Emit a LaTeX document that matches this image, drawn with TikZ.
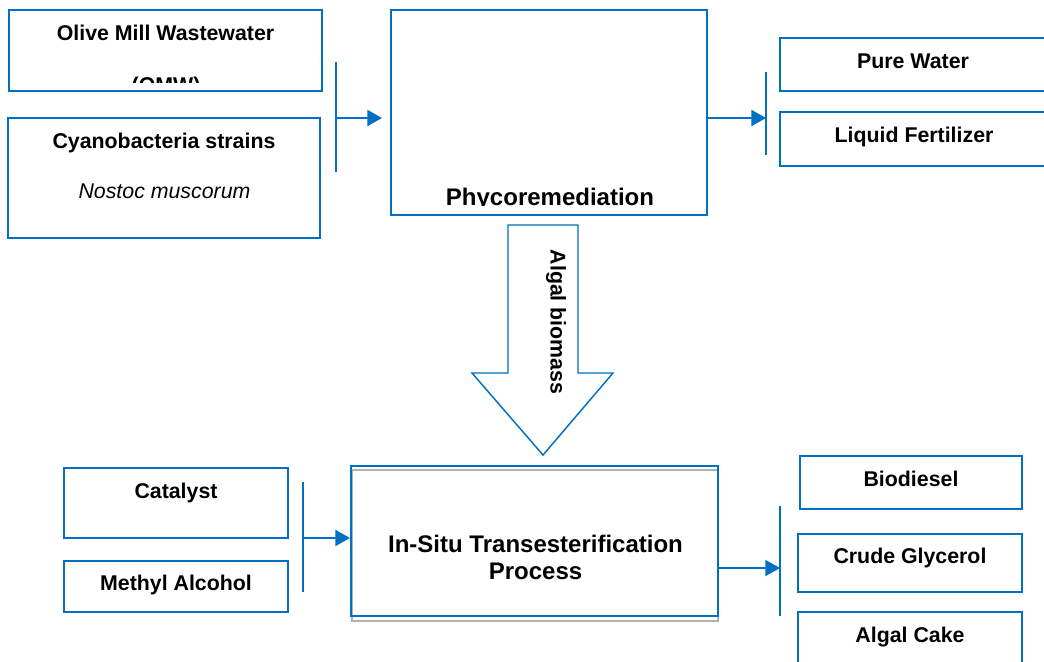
\documentclass[tikz,border=0pt]{standalone}
\usepackage{fontspec}
\setmainfont{Liberation Sans}
\usepackage{tikz}
\usetikzlibrary{positioning, arrows.meta}

\definecolor{boxblue}{RGB}{0,112,192}

\tikzset{
  box/.style={draw=boxblue, line width=1.5pt, inner sep=0pt, rectangle},
  lbl/.style={font=\bfseries\fontsize{16}{19}\selectfont, anchor=base, inner sep=0pt},
  biglbl/.style={font=\bfseries\fontsize{18}{20}\selectfont, anchor=base, inner sep=0pt},
  bar/.style={draw=boxblue, line width=1.5pt},
  flow/.style={draw=boxblue, line width=1.5pt, -{Triangle[length=11pt,width=12pt]}},
}

\begin{document}
\begin{tikzpicture}[x=0.75pt,y=0.75pt,yscale=-1,xscale=1]
    \useasboundingbox (0,0) rectangle (1044,661);

    %Shape: Rectangle [inputs]
    \node[box, minimum width=234.75pt, minimum height=60.75pt] (omw) at (165.5,50.5) {};
    \node[box, minimum width=234pt, minimum height=90pt] (cyano) at (164,178) {};
    %Shape: Rectangle [phycoremediation]
    \node[box, minimum width=237pt, minimum height=153.75pt] (phyco) at (549,112.5) {};
    %Shape: Rectangle [outputs]
    \node[box, minimum width=201pt, minimum height=39.75pt] (pure) at (914,64.5) {};
    \node[box, minimum width=201pt, minimum height=40.5pt] (liquid) at (914,139) {};

    %Straight Lines [bracket in]
    \coordinate (inT) at (336,62);
    \coordinate (inB) at (336,172);
    \coordinate (inM) at (336,118);
    \draw[bar] (inT) -- (inB);
    \draw[flow, shorten >=6pt] (inM) -- (inM -| phyco.west);
    %Straight Lines [bracket out]
    \coordinate (outT) at (766,72);
    \coordinate (outB) at (766,155);
    \coordinate (outM) at (766,118);
    \draw[bar] (outT) -- (outB);
    \draw[flow] (outM -| phyco.east) -- (outM);

    %Shape: Block Arrow
    \coordinate (arA) at (508,225);
    \coordinate (arB) at (578,225);
    \coordinate (arC) at (578,373);
    \coordinate (arD) at (613,373);
    \coordinate (arTip) at (543,455);
    \coordinate (arE) at (472,373);
    \coordinate (arF) at (508,373);
    \draw[boxblue, line width=1.1pt, fill=white] (arA) -- (arB) -- (arC) -- (arD) -- (arTip) -- (arE) -- (arF) -- cycle;

    %Shape: Rectangle [second stage]
    \node[box, minimum width=168pt, minimum height=52.5pt] (catalyst) at (176,503) {};
    \node[box, minimum width=168pt, minimum height=38.25pt] (methyl) at (176,586.5) {};
    \draw[gray!60, line width=1.5pt] (352,470) rectangle (718,621);
    \node[box, minimum width=275.25pt, minimum height=112.5pt] (trans) at (534.5,541) {};
    \node[box, minimum width=166.5pt, minimum height=39.75pt] (biodiesel) at (911,482.5) {};
    \node[box, minimum width=168pt, minimum height=43.5pt] (crude) at (910,563) {};
    \node[box, minimum width=168pt, minimum height=43.5pt] (cake) at (910,641) {};

    %Straight Lines [bracket in 2]
    \coordinate (in2T) at (303,482);
    \coordinate (in2B) at (303,592);
    \coordinate (in2M) at (303,538);
    \draw[bar] (in2T) -- (in2B);
    \draw[flow] (in2M) -- (in2M -| trans.west);
    %Straight Lines [bracket out 2]
    \coordinate (out2T) at (780,506);
    \coordinate (out2B) at (780,616);
    \coordinate (out2M) at (780,568);
    \draw[bar] (out2T) -- (out2B);
    \draw[flow] (out2M -| trans.east) -- (out2M);

    % Text Node
    \node[lbl] (omwA) at (165.5,40) {Olive Mill Wastewater};
    % Text Node
    \begin{scope}
      \clip (9,10) rectangle (322,82);
      \node[lbl] (omwB) at (166,92) {(OMW)};
    \end{scope}
    % Text Node
    \node[lbl] (cyanoA) at (164,148) {Cyanobacteria strains};
    % Text Node
    \node[lbl, font=\itshape\fontsize{16}{19}\selectfont] (cyanoB) at (164.5,198) {Nostoc muscorum};
    % Text Node
    \begin{scope}
      \clip (391,10) rectangle (707,205);
      \node[biglbl] (phycoT) at (550,205) {Phycoremediation};
    \end{scope}
    % Text Node
    \node[lbl] (pureT) at (913,68) {Pure Water};
    % Text Node
    \node[lbl] (liquidT) at (914,142) {Liquid Fertilizer};
    % Text Node
    \node[lbl, anchor=center, rotate=-90] (biomassT) at (556,322) {Algal biomass};
    % Text Node
    \node[lbl] (catalystT) at (176,498) {Catalyst};
    % Text Node
    \node[lbl] (methylT) at (176,590) {Methyl Alcohol};
    % Text Node
    \node[biglbl] (transA) at (535.5,552) {In-Situ Transesterification};
    % Text Node
    \node[biglbl] (transB) at (535.5,579) {Process};
    % Text Node
    \node[lbl] (biodieselT) at (911,486) {Biodiesel};
    % Text Node
    \node[lbl] (crudeT) at (910,563) {Crude Glycerol};
    % Text Node
    \node[lbl] (cakeT) at (910,642) {Algal Cake};

\end{tikzpicture}
\end{document}
